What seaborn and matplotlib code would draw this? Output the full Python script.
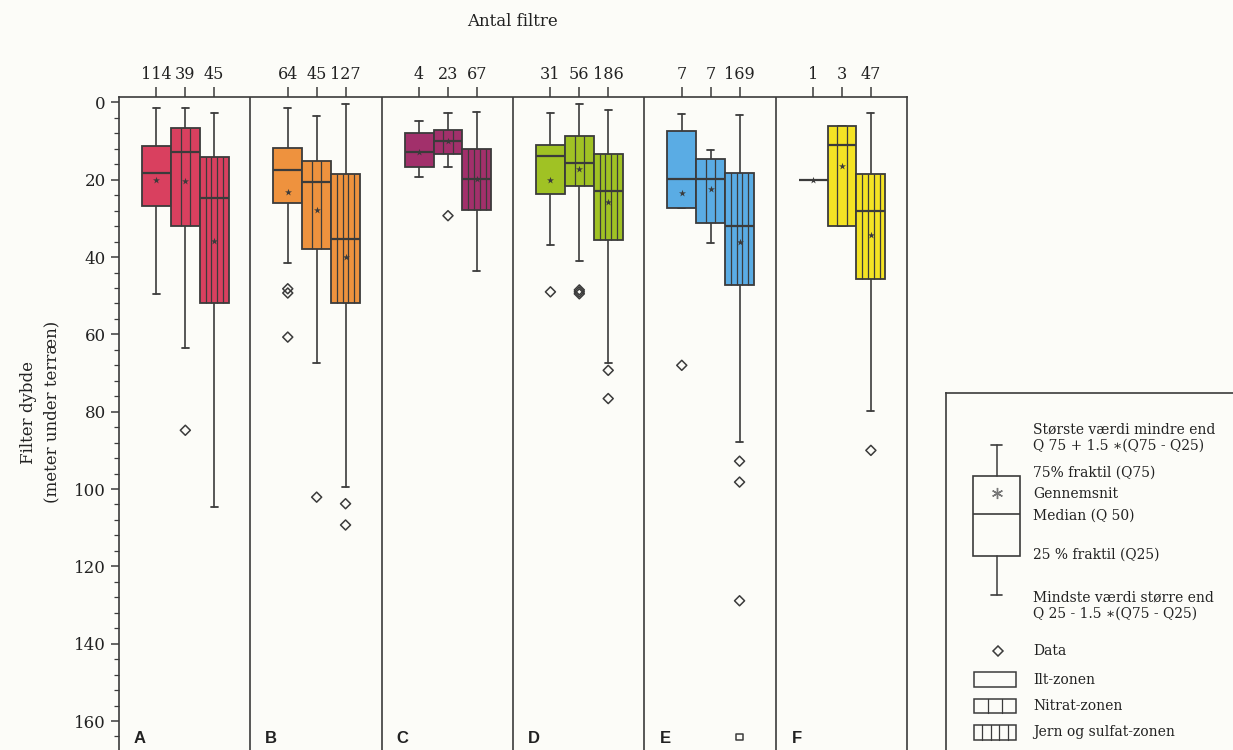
import numpy as np
import pandas as pd
import matplotlib
matplotlib.use("Agg")
import matplotlib.pyplot as plt
from matplotlib.ticker import MultipleLocator
import seaborn as sns

# ---------------- data (depth in m below terrain) ----------------
panels = ["A", "B", "C", "D", "E", "F"]
zones = ["Ilt-zonen", "Nitrat-zonen", "Jern og sulfat-zonen"]
panel_colors = ["#d9405f", "#ee923e", "#a2306b", "#a0c224", "#5aacE4", "#f4e324"]

counts = [114, 39, 45, 64, 45, 127, 4, 23, 67, 31, 56, 186, 7, 7, 169, 1, 3, 47]
whisker_top = [1.5, 1.5, 2.8, 1.5, 3.4, 0.3, 4.7, 2.7, 2.6, 2.8, 0.4, 2.0, 3.0, 12.3, 3.2, 20.1, 6.2, 2.7]
box_top = [11.4, 6.6, 14.1, 11.8, 15.1, 18.5, 7.8, 7.1, 12.0, 11.1, 8.7, 13.4, 7.5, 14.6, 18.2, 20.1, 6.2, 18.6]
median = [18.2, 12.9, 24.6, 17.5, 20.6, 35.2, 12.7, 9.9, 19.8, 13.8, 15.6, 22.9, 19.8, 19.7, 31.9, 20.1, 11.0, 28.1]
mean = [20.0, 20.4, 35.8, 23.1, 27.7, 40.0, 12.9, 10.1, 19.9, 20.1, 17.1, 25.7, 23.4, 22.3, 36.0, 20.1, 16.4, 34.3]
box_bottom = [26.9, 31.9, 51.9, 26.1, 37.8, 51.9, 16.8, 13.4, 27.8, 23.7, 21.7, 35.5, 27.3, 31.1, 47.2, 20.1, 32.0, 45.6]
whisker_bottom = [49.5, 63.5, 104.6, 41.5, 67.4, 99.5, 19.2, 16.8, 43.5, 36.9, 41.1, 67.4, 27.3, 36.3, 87.9, 20.1, 32.0, 79.8]

outlier_group = [1, 3, 3, 3, 4, 5, 5, 7, 9, 10, 10, 10, 11, 11, 12, 14, 14, 14, 17]
outlier_depth = [84.8, 48.2, 49.3, 60.7, 102.1, 103.8, 109.3, 29.3, 49.0, 48.5, 49.0, 49.5,
                 69.3, 76.6, 68.0, 92.8, 98.2, 128.9, 90.0]
extreme_group = [14]
extreme_depth = [164.1]

# ---------------- style ----------------
sns.set_theme(style="ticks")
plt.rcParams["font.family"] = ["DejaVu Serif", "DejaVu Sans"]
INK = "#3b3b3b"
BG = "#fcfcf8"

W, H = 1233, 750
fig = plt.figure(figsize=(W / 100, H / 100), dpi=100, facecolor=BG)
ax = fig.add_axes([119 / W, 0, 788 / W, (H - 97) / H])
ax.set_facecolor(BG)

offsets = [0.285, 0.505, 0.725]
bw = 0.22
pos = [p + offsets[z] for p in range(len(panels)) for z in range(len(zones))]
zone_idx = [z for p in range(len(panels)) for z in range(len(zones))]
panel_idx = [p for p in range(len(panels)) for z in range(len(zones))]

stats = []
for i in range(len(counts)):
    stats.append(dict(med=median[i], q1=box_top[i], q3=box_bottom[i],
                      whislo=whisker_top[i], whishi=whisker_bottom[i],
                      mean=mean[i], fliers=[]))

bp = ax.bxp(stats, positions=pos, widths=bw, patch_artist=True, showfliers=False,
            showmeans=False, capwidths=0.055, manage_ticks=False,
            boxprops=dict(edgecolor=INK, linewidth=1.3),
            whiskerprops=dict(color=INK, linewidth=1.2),
            capprops=dict(color=INK, linewidth=1.3),
            medianprops=dict(color=INK, linewidth=1.6))
for patch, p in zip(bp["boxes"], panel_idx):
    patch.set_facecolor(panel_colors[p])
    patch.set_zorder(3)
for m in bp["medians"]:
    m.set_zorder(5)

# zone hatching: vertical lines inside boxes
for i, z in enumerate(zone_idx):
    n = [0, 2, 4][z]
    if n == 0:
        continue
    xs = [pos[i] - bw / 2 + bw * k / (n + 1) for k in range(1, n + 1)]
    ax.vlines(xs, box_top[i], box_bottom[i], color=INK, linewidth=0.9, zorder=4)

# means
sns.scatterplot(x=pos, y=mean, marker="*", s=28, color=INK, linewidth=0, ax=ax,
                zorder=6, legend=False)

# outliers
odf = pd.DataFrame({"x": [pos[g] for g in outlier_group], "y": outlier_depth})
sns.scatterplot(data=odf, x="x", y="y", marker="D", s=26, facecolors="none",
                edgecolor=INK, linewidth=1.1, ax=ax, zorder=6, legend=False)
edf = pd.DataFrame({"x": [pos[g] for g in extreme_group], "y": extreme_depth})
sns.scatterplot(data=edf, x="x", y="y", marker="s", s=22, facecolors="none",
                edgecolor=INK, linewidth=1.1, ax=ax, zorder=6, legend=False)

# panel separators and letters
for p in range(1, len(panels)):
    ax.axvline(p, color=INK, linewidth=1.2, zorder=2)
for p, lab in enumerate(panels):
    ax.text(p + 0.16, 164.4, lab, family="Liberation Sans", fontweight="bold",
            fontsize=12, ha="center", va="center", color="#222222")

# axes
ax.set_xlim(0, len(panels))
ax.set_ylim(167.5, -1.4)
ax.set_xticks(pos)
ax.set_xticklabels([str(c) for c in counts])
ax.xaxis.tick_top()
ax.tick_params(axis="x", top=True, bottom=False, length=7, width=1.1, color=INK,
               labelsize=11.5, pad=3, labelcolor="#222222")
ax.yaxis.set_major_locator(MultipleLocator(20))
ax.yaxis.set_minor_locator(MultipleLocator(4))
ax.tick_params(axis="y", which="major", length=6, width=1.1, color=INK,
               labelsize=12, labelcolor="#222222")
ax.tick_params(axis="y", which="minor", left=True, length=3.5, width=0.9, color=INK)
ax.set_xlabel("")
ax.set_ylabel("")
for s in ["left", "top", "right"]:
    ax.spines[s].set_color(INK)
    ax.spines[s].set_linewidth(1.2)
ax.spines["bottom"].set_visible(False)

fig.text(512 / W, 1 - 22 / H, "Antal filtre", ha="center", va="center",
         fontsize=12, color="#222222")
fig.text(40 / W, 1 - 412 / H, "Filter dybde\n(meter under terræn)", rotation=90,
         ha="center", va="center", multialignment="center", fontsize=12,
         linespacing=1.5, color="#222222")

# ---------------- explanation box ----------------
lx0, ly0 = 946, 393
lax = fig.add_axes([lx0 / W, 0, (W - lx0) / W, (H - ly0) / H])
lax.set_facecolor(BG)
lax.set_xlim(0, W - lx0)
lax.set_ylim(H - ly0, 0)
lax.set_xticks([])
lax.set_yticks([])
for s in ["right", "bottom"]:
    lax.spines[s].set_visible(False)
for s in ["left", "top"]:
    lax.spines[s].set_color(INK)
    lax.spines[s].set_linewidth(1.2)

cx = 50.5
lax.bxp([dict(med=121, q1=82.7, q3=163.3, whislo=52.3, whishi=201.7, mean=100, fliers=[])],
        positions=[cx], widths=47, capwidths=11, showfliers=False, manage_ticks=False,
        patch_artist=True,
        boxprops=dict(edgecolor=INK, facecolor="none", linewidth=1.2),
        whiskerprops=dict(color=INK, linewidth=1.1),
        capprops=dict(color=INK, linewidth=1.2),
        medianprops=dict(color=INK, linewidth=1.2))
lax.plot([cx], [100], marker=(6, 2, 0), markersize=8, color="#777777", mew=1)

tx = 87
lfs = 10
legend_lines = [
    (36.7, "Største værdi mindre end"),
    (52.7, "Q 75 + 1.5 ∗(Q75 - Q25)"),
    (80, "75% fraktil (Q75)"),
    (101, "Gennemsnit"),
    (123, "Median (Q 50)"),
    (161.7, "25 % fraktil (Q25)"),
    (205, "Mindste værdi større end"),
    (221, "Q 25 - 1.5 ∗(Q75 - Q25)"),
    (258.3, "Data"),
    (286.7, zones[0]),
    (313.3, zones[1]),
    (339.3, zones[2]),
]
for yy, t in legend_lines:
    lax.text(tx, yy, t, fontsize=lfs, ha="left", va="center", color="#222222")

lax.plot([52], [258.3], marker="D", markersize=5, mfc="none", mec=INK, mew=1.1)
icon_y = [(279, 294), (306, 320), (332, 347)]
for z, (y0, y1) in enumerate(icon_y):
    lax.add_patch(plt.Rectangle((28, y0), 42, y1 - y0, fill=False, edgecolor=INK, linewidth=1.1))
    n = [0, 2, 4][z]
    for k in range(1, n + 1):
        xx = 28 + 42 * k / (n + 1)
        lax.plot([xx, xx], [y0, y1], color=INK, linewidth=0.9)

fig.savefig("out.png", dpi=100, facecolor=BG)
